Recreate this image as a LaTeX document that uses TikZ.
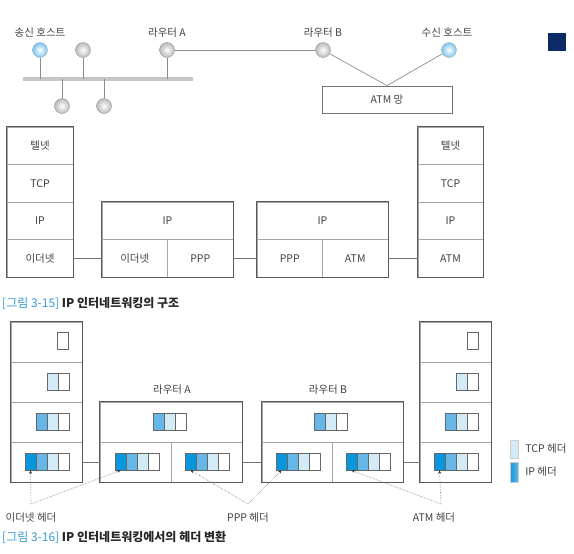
\documentclass[tikz,border=0pt]{standalone}
\usepackage{fontspec}
\setmainfont{Noto Sans CJK KR}
\usetikzlibrary{arrows.meta,positioning}
\definecolor{hdrA}{HTML}{0A96DC}
\definecolor{hdrB}{HTML}{66B6E8}
\definecolor{hdrC}{HTML}{D3EAF7}
\definecolor{capblue}{HTML}{3A9AD6}
\definecolor{navy}{HTML}{0C2B66}
\definecolor{hostblue}{HTML}{7CC4EE}
\newcommand{\packet}[4]{\foreach [count=\k] \c in {#4} \node[cell, fill=\c] (#1\k) at ({#2+11*\k-5.5}, #3) {};}

\begin{document}
\begin{tikzpicture}[x = 1pt, y = -1pt, every node/.style = {font = \fontsize{10.5}{12}\selectfont, text = black!75},
	layer/.style = {draw = black!35, minimum width = #1, minimum height = 37.5, inner sep = 0},
	deep/.style = {minimum height = 40},
	frame/.style = {draw = black!65, line width = 0.9},
	link/.style = {draw = black!55, line width = 0.8},
	wire/.style = {draw = black!45, line width = 0.7},
	gball/.style = {circle, draw = black!40, inner color = white, outer color = gray!55, minimum size = 15, inner sep = 0},
	hball/.style = {circle, draw = black!30, inner color = white, outer color = hostblue, minimum size = 15, inner sep = 0},
	cell/.style = {draw = black!60, line width = 0.6, minimum width = 11, minimum height = 17, inner sep = 0},
	hdrarrow/.style = {densely dotted, draw = black!50, line width = 0.6, -{Stealth[length = 3.5pt, width = 3pt, black!80]}},
	caption/.style = {anchor = west, inner sep = 0, text = black!85, font = \fontsize{12}{14}\selectfont\bfseries}]
	\useasboundingbox (0, 0) rectangle (574, 554);
	\node[fill = navy, minimum size = 18, inner sep = 0] (mark) at (557, 42) {};

	\node (hsl) at (40, 33) {송신 호스트};
	\node (ral) at (167, 33) {라우터 A};
	\node (rbl) at (323, 33) {라우터 B};
	\node (hrl) at (447, 33) {수신 호스트};
	\coordinate (busL) at (23, 79);
	\coordinate (busR) at (193, 79);
	\draw[gray!45, line width = 3.5] (busL) -- (busR);
	\node[hball] (hs) at (40, 50) {};
	\node[gball] (h2) at (83, 50) {};
	\node[gball] (ra) at (167, 50) {};
	\node[gball] (h3) at (62, 106) {};
	\node[gball] (h4) at (104, 106) {};
	\node[gball] (rb) at (323, 50) {};
	\node[hball] (hr) at (449, 50) {};
	\foreach \h in {hs, h2, ra, h3, h4}
		\draw[wire] (\h) -- (\h |- busL);
	\draw[wire] (ra) -- (rb);
	\node[draw = black!55, line width = 0.8, minimum width = 130, minimum height = 27, inner sep = 0] (atmnet) at (387, 99.5) {ATM 망};
	\draw[wire] (rb) -- (atmnet.north);
	\draw[wire] (hr) -- (atmnet.north);

	\foreach \n/\y/\t in {1/145.75/텔넷, 2/183.25/TCP, 3/220.75/IP, 4/258.25/이더넷}
		\node[layer = 66] (sL\n) at (40, \y) {\t};
	\foreach \n/\y/\t in {1/145.75/텔넷, 2/183.25/TCP, 3/220.75/IP, 4/258.25/ATM}
		\node[layer = 65] (sR\n) at (450.5, \y) {\t};
	\node[layer = 131] (rAip) at (167.5, 220.75) {IP};
	\node[layer = 65.5] (rAl) at (134.75, 258.25) {이더넷};
	\node[layer = 65.5] (rAr) at (200.25, 258.25) {PPP};
	\node[layer = 131] (rBip) at (322.5, 220.75) {IP};
	\node[layer = 65.5] (rBl) at (289.75, 258.25) {PPP};
	\node[layer = 65.5] (rBr) at (355.25, 258.25) {ATM};
	\draw[frame] (sL1.north west) rectangle (sL4.south east);
	\draw[frame] (sR1.north west) rectangle (sR4.south east);
	\draw[frame] (rAip.north west) rectangle (rAr.south east);
	\draw[frame] (rBip.north west) rectangle (rBr.south east);
	\foreach \from/\tgt in {sL4/rAl, rAr/rBl, rBr/sR4}
		\draw[link] (\from) -- (\tgt);
	\node[caption] (cap15) at (2, 303) {{\mdseries\color{capblue}[그림 3-15]} IP 인터네트워킹의 구조};

	\foreach \n/\y in {1/342, 2/382, 3/422, 4/462} {
		\node[layer = 71, deep] (qL\n) at (46.5, \y) {};
		\node[layer = 71, deep] (qR\n) at (455.5, \y) {};
	}
	\node[layer = 142, deep] (qAt) at (171, 422) {};
	\node[layer = 71, deep] (qAl) at (135.5, 462) {};
	\node[layer = 71, deep] (qAr) at (206.5, 462) {};
	\node[layer = 141, deep] (qBt) at (332.5, 422) {};
	\node[layer = 70.5, deep] (qBl) at (297.25, 462) {};
	\node[layer = 70.5, deep] (qBr) at (367.75, 462) {};
	\draw[frame] (qL1.north west) rectangle (qL4.south east);
	\draw[frame] (qR1.north west) rectangle (qR4.south east);
	\draw[frame] (qAt.north west) rectangle (qAr.south east);
	\draw[frame] (qBt.north west) rectangle (qBr.south east);
	\foreach \from/\tgt in {qL4/qAl, qAr/qBl, qBr/qR4}
		\draw[link] (\from) -- (\tgt);
	\node (qAlab) at (172, 390) {라우터 A};
	\node (qBlab) at (328, 390) {라우터 B};

	\packet{pL1}{57.5}{341}{white}
	\packet{pL2}{47}{381.5}{hdrC, white}
	\packet{pL3}{36}{421.5}{hdrB, hdrC, white}
	\packet{pL4}{25}{461.5}{hdrA, hdrB, hdrC, white}
	\packet{pR1}{467}{341}{white}
	\packet{pR2}{456}{381.5}{hdrC, white}
	\packet{pR3}{445}{421.5}{hdrB, hdrC, white}
	\packet{pR4}{434}{461.5}{hdrA, hdrB, hdrC, white}
	\packet{pAt}{153.5}{421.5}{hdrB, hdrC, white}
	\packet{pAl}{115}{461.5}{hdrA, hdrB, hdrC, white}
	\packet{pAr}{185}{461.5}{hdrA, hdrB, hdrC, white}
	\packet{pBt}{314.5}{421.5}{hdrB, hdrC, white}
	\packet{pBl}{276}{461.5}{hdrA, hdrB, hdrC, white}
	\packet{pBr}{346}{461.5}{hdrA, hdrB, hdrC, white}

	\coordinate (eth) at (31, 504);
	\coordinate (ppp) at (248, 504);
	\coordinate (atm) at (441, 504);
	\foreach \from/\tgt in {eth/pL41, eth/pAl1, ppp/pAr1, ppp/pBl1, atm/pBr1, atm/pR41}
		\draw[hdrarrow] (\from) -- (\tgt.south);
	\node (ethlab) at (31, 518) {이더넷 헤더};
	\node (ppplab) at (248, 518) {PPP 헤더};
	\node (atmlab) at (434, 518) {ATM 헤더};

	\node[draw = black!20, fill = hdrC, minimum width = 8, minimum height = 18, inner sep = 0] (kTcp) at (514, 449) {};
	\node[draw = black!20, left color = hdrA, right color = hdrB, minimum width = 8, minimum height = 20, inner sep = 0] (kIp) at (514, 472) {};
	\node[right = 6pt of kTcp, inner sep = 1pt] (kTcpl) {TCP 헤더};
	\node[right = 6pt of kIp, inner sep = 1pt] (kIpl) {IP 헤더};
	\node[caption] (cap16) at (2, 537) {{\mdseries\color{capblue}[그림 3-16]} IP 인터네트워킹에서의 헤더 변환};
\end{tikzpicture}
\end{document}
